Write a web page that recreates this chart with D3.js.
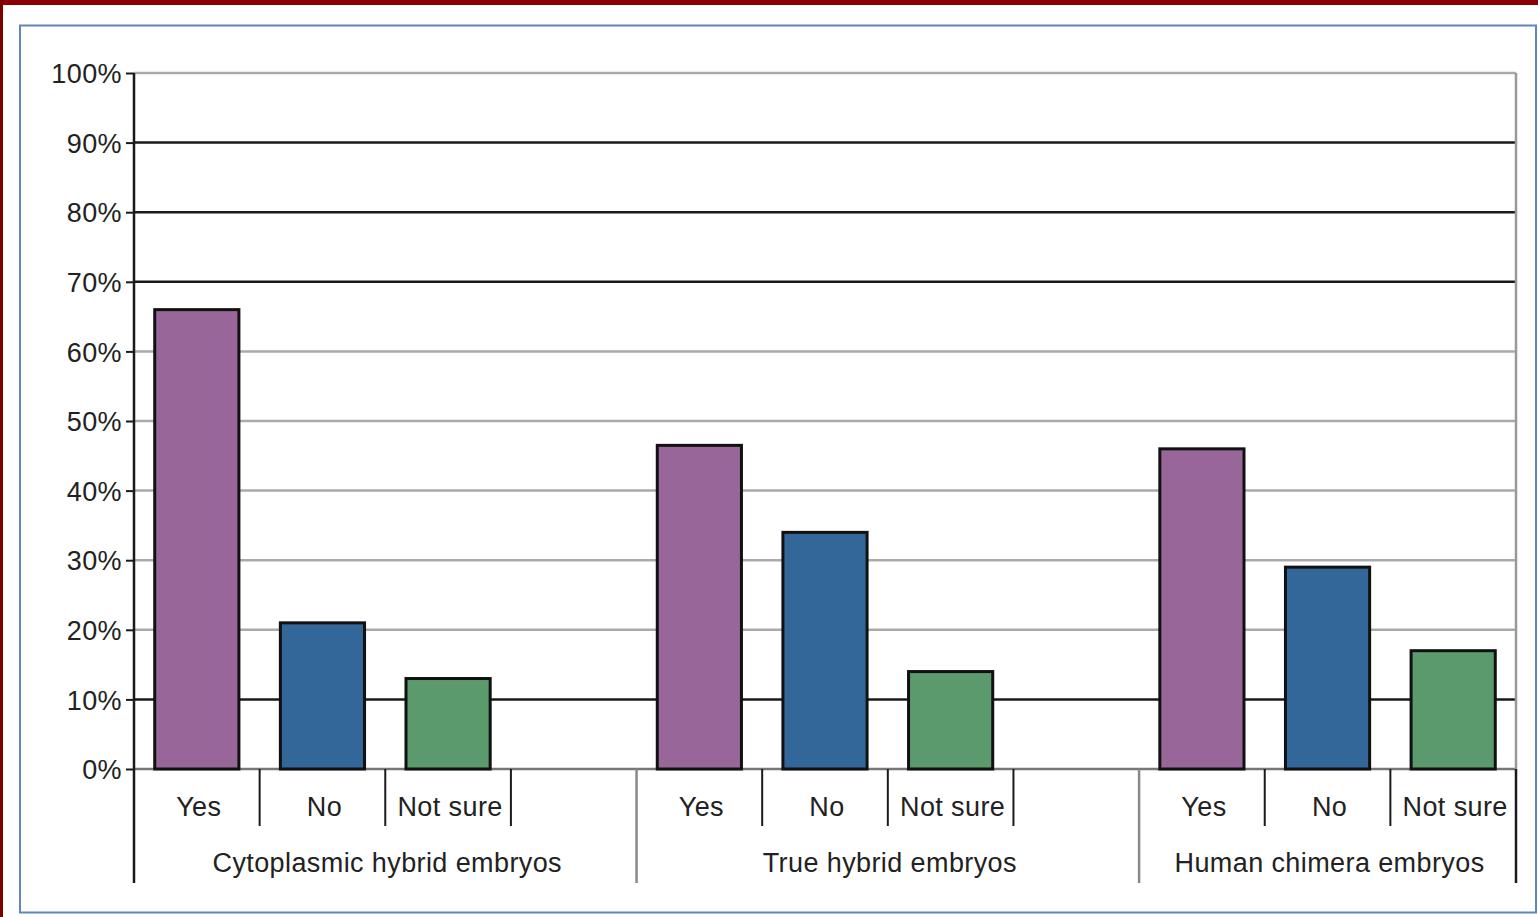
<!DOCTYPE html>
<html>
<head>
<meta charset="utf-8">
<title>Embryo survey</title>
<script src="https://d3js.org/d3.v7.min.js"></script>
<style>
  body { margin: 0; background: #fff; }
  svg { display: block; }
  text { font-family: "Liberation Sans", Arial, sans-serif; fill: #222; letter-spacing: 0.4px; }
  .tick-label { font-size: 27px; }
  .cat-label { font-size: 27px; }
</style>
</head>
<body>
<svg id="chart" width="1538" height="917"></svg>
<script>
// data
const groups = ['Cytoplasmic hybrid embryos', 'True hybrid embryos', 'Human chimera embryos'];
const answers = ['Yes', 'No', 'Not sure'];
const yesValues = [66, 46.5, 46];
const noValues = [21, 34, 29];
const notSureValues = [13, 14, 17];
const yTicks = [0, 10, 20, 30, 40, 50, 60, 70, 80, 90, 100];
const darkLines = [10, 70, 80, 90]; // lines drawn black in the original

const colors = { 'Yes': '#996699', 'No': '#336699', 'Not sure': '#5a9a6c' };
const series = { 'Yes': yesValues, 'No': noValues, 'Not sure': notSureValues };

const svg = d3.select('#chart');

// outer decoration
svg.append('rect').attr('x', 0).attr('y', 0).attr('width', 1538).attr('height', 5).attr('fill', '#8b0000');
svg.append('rect').attr('x', 0).attr('y', 0).attr('width', 3).attr('height', 917).attr('fill', '#7a0000');
svg.append('rect')
  .attr('x', 20).attr('y', 25.5).attr('width', 1516).attr('height', 887)
  .attr('fill', 'none').attr('stroke', '#5f88b8').attr('stroke-width', 2);

const plotLeft = 134, plotRight = 1516, plotTop = 73, plotBottom = 769;

// one slot per answer, plus an empty slot between groups
const slots = [];
groups.forEach((g, gi) => {
  answers.forEach(a => slots.push(g + '|' + a));
  if (gi < groups.length - 1) slots.push(g + '|gap');
});

const x = d3.scaleBand().domain(slots).range([plotLeft, plotRight]).padding(0);
const y = d3.scaleLinear().domain([0, 100]).range([plotBottom, plotTop]);
const barW = x.bandwidth() * 0.67;

// grid lines
svg.append('g').selectAll('line').data(yTicks).join('line')
  .attr('x1', plotLeft).attr('x2', plotRight)
  .attr('y1', d => y(d)).attr('y2', d => y(d))
  .attr('stroke', d => darkLines.includes(d) ? '#1a1a1a' : (d === 0 ? '#777' : '#aaa'))
  .attr('stroke-width', 2.5);

// right plot border
svg.append('line').attr('x1', plotRight).attr('x2', plotRight).attr('y1', plotTop).attr('y2', plotBottom)
  .attr('stroke', '#999').attr('stroke-width', 2.5);

// y axis
const yAxis = svg.append('g')
  .attr('transform', `translate(${plotLeft},0)`)
  .call(d3.axisLeft(y).tickValues(yTicks).tickSize(8).tickPadding(4).tickFormat(d => d + '%'));
yAxis.select('.domain').remove();
yAxis.selectAll('.tick line').attr('stroke', '#1a1a1a').attr('stroke-width', 2);
yAxis.selectAll('.tick text').attr('class', 'tick-label').attr('fill', '#222').attr('dy', '0.36em');
svg.append('line').attr('x1', plotLeft).attr('x2', plotLeft).attr('y1', plotTop).attr('y2', 883)
  .attr('stroke', '#1a1a1a').attr('stroke-width', 2.5);

// bars
const barData = [];
groups.forEach((g, gi) => answers.forEach(a => barData.push({ key: g + '|' + a, answer: a, value: series[a][gi] })));
svg.append('g').selectAll('rect').data(barData).join('rect')
  .attr('x', d => x(d.key) + (x.bandwidth() - barW) / 2)
  .attr('y', d => y(d.value))
  .attr('width', barW)
  .attr('height', d => y(0) - y(d.value))
  .attr('fill', d => colors[d.answer])
  .attr('stroke', '#111').attr('stroke-width', 3);

// category axis: answer ticks and labels
const subTicks = svg.append('g');
groups.forEach(g => {
  answers.forEach(a => {
    const k = g + '|' + a;
    subTicks.append('line')
      .attr('x1', x(k) + x.bandwidth()).attr('x2', x(k) + x.bandwidth())
      .attr('y1', plotBottom).attr('y2', 826)
      .attr('stroke', '#1a1a1a').attr('stroke-width', 2);
    subTicks.append('text').attr('class', 'cat-label')
      .attr('x', x(k) + x.bandwidth() / 2 + 2).attr('y', 816)
      .attr('text-anchor', 'middle').text(a);
  });
});

// group separators and labels
groups.forEach((g, gi) => {
  const x0 = x(g + '|' + answers[0]);
  const lastKey = gi < groups.length - 1 ? g + '|gap' : g + '|' + answers[answers.length - 1];
  const x1 = x(lastKey) + x.bandwidth();
  svg.append('line').attr('x1', x1).attr('x2', x1).attr('y1', plotBottom).attr('y2', 883)
    .attr('stroke', gi < groups.length - 1 ? '#888' : '#1a1a1a').attr('stroke-width', 2.5);
  svg.append('text').attr('class', 'cat-label')
    .attr('x', (x0 + x1) / 2 + 2).attr('y', 872)
    .attr('text-anchor', 'middle').text(g);
});
</script>
</body>
</html>
